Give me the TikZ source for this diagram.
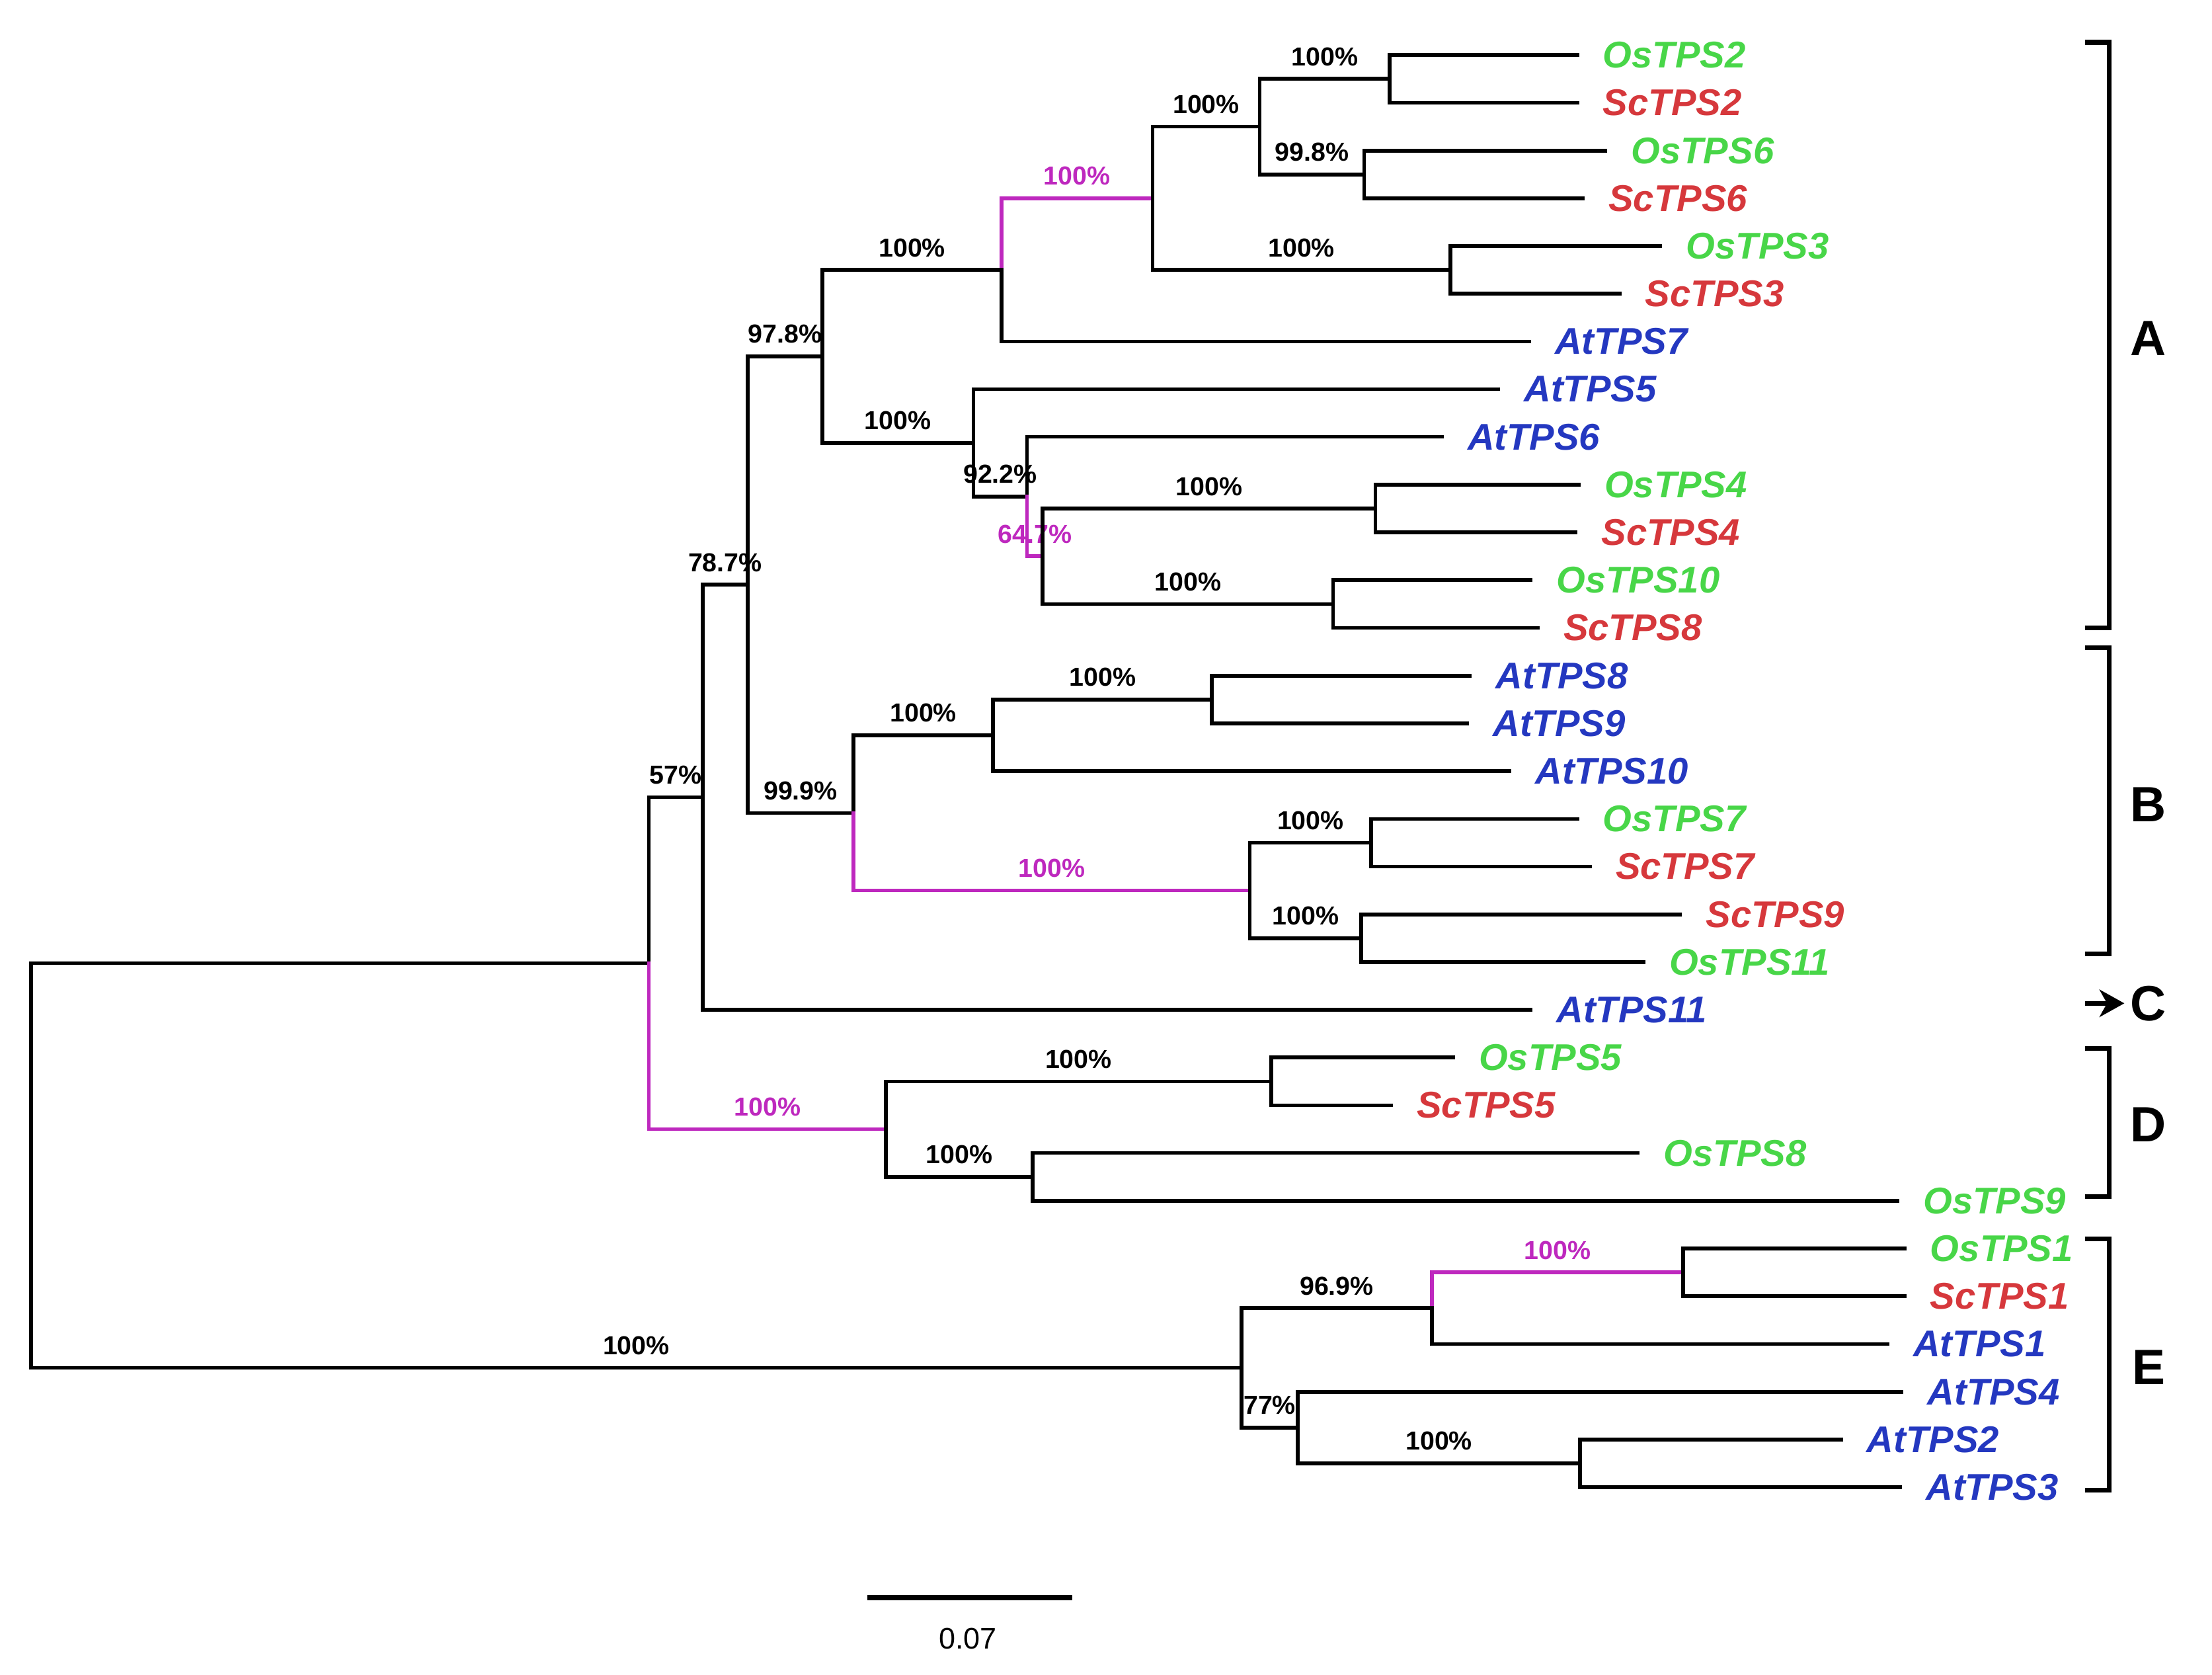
\documentclass[tikz,border=0pt]{standalone}
\usepackage{fontspec}
\setmainfont{Liberation Sans}
\usetikzlibrary{arrows.meta}

\definecolor{osgreen}{RGB}{72,214,72}
\definecolor{scred}{RGB}{214,56,60}
\definecolor{atblue}{RGB}{36,56,192}
\definecolor{boot}{RGB}{190,40,190}

\begin{document}
\begin{tikzpicture}[x=0.02cm, y=-0.02cm,
		branch/.style={line width=1.5pt, line cap=rect},
		hot/.style={branch, draw=boot},
		pct/.style={pos=0.75, above=3pt, inner sep=1.5pt, font=\fontsize{10.5}{12}\selectfont\bfseries},
		taxon/.style={anchor=west, inner sep=0pt, xshift=0.36cm, font=\fontsize{15}{18}\selectfont\bfseries\itshape},
		clade/.style={line width=2pt},
		cladename/.style={font=\fontsize{20}{24}\selectfont\bfseries}]
		
		\useasboundingbox (0,0) rectangle (1568,1187);
		
		% tips and names
		\foreach \nm/\tx/\ty/\col in {OsTPS2/1118/39/osgreen, ScTPS2/1118/72.8/scred,
			OsTPS6/1138/106.7/osgreen, ScTPS6/1122/140.5/scred, OsTPS3/1177/174.3/osgreen,
			ScTPS3/1148/208.2/scred, AtTPS7/1084/242/atblue, AtTPS5/1062/275.8/atblue,
			AtTPS6/1022/309.6/atblue, OsTPS4/1119/343.5/osgreen, ScTPS4/1117/377.3/scred,
			OsTPS10/1085/411.1/osgreen, ScTPS8/1090/445/scred, AtTPS8/1042/478.8/atblue,
			AtTPS9/1040/512.6/atblue, AtTPS10/1070/546.5/atblue, OsTPS7/1118/580.3/osgreen,
			ScTPS7/1127/614.1/scred, ScTPS9/1191/648/scred, OsTPS11/1165/681.8/osgreen,
			AtTPS11/1085/715.6/atblue, OsTPS5/1030/749.4/osgreen, ScTPS5/986/783.3/scred,
			OsTPS8/1161/817.1/osgreen, OsTPS9/1345/850.9/osgreen, OsTPS1/1350/884.8/osgreen,
			ScTPS1/1350/918.6/scred, AtTPS1/1338/952.4/atblue, AtTPS4/1348/986.3/atblue,
			AtTPS2/1305/1020.1/atblue, AtTPS3/1347/1053.9/atblue}
		{
			\coordinate (t\nm) at (\tx,\ty);
			\node[taxon, text=\col] (\nm) at (t\nm) {\nm};
		}
		
		% inner nodes
		\coordinate (root) at (22,826);
		\coordinate (n57) at (460,682.6);
		\coordinate (n787) at (498,564.95);
		\coordinate (n978) at (530,414.3);
		\coordinate (nA1) at (583,252.55);
		\coordinate (nA2) at (710,191.25);
		\coordinate (nA3) at (817,140.5);
		\coordinate (nA4) at (893,89.75);
		\coordinate (nA5) at (985,55.9);
		\coordinate (nA6) at (967,123.6);
		\coordinate (nA7) at (1028,191.25);
		\coordinate (nA8) at (690,313.85);
		\coordinate (nA9) at (728,351.9);
		\coordinate (nA10) at (739,394.2);
		\coordinate (nA11) at (975,360.4);
		\coordinate (nA12) at (945,428.05);
		\coordinate (nB1) at (605,576.1);
		\coordinate (nB2) at (704,521.1);
		\coordinate (nB3) at (859,495.7);
		\coordinate (nB4) at (886,631.05);
		\coordinate (nB5) at (972,597.2);
		\coordinate (nB6) at (965,664.9);
		\coordinate (nD1) at (628,800.2);
		\coordinate (nD2) at (901,766.35);
		\coordinate (nD3) at (732,834);
		\coordinate (nE1) at (880,969.35);
		\coordinate (nE2) at (1015,927.05);
		\coordinate (nE3) at (1193,901.7);
		\coordinate (nE4) at (920,1011.65);
		\coordinate (nE5) at (1120,1037);
		
		% backbone
		\draw[branch] (root) |- (n57);
		\draw[branch] (root) |- node[pct] {100\%} (nE1);
		\draw[branch] (n57) |- node[pct] {57\%} (n787);
		\draw[hot] (n57) |- node[pct, text=boot] {100\%} (nD1);
		\draw[branch] (n787) |- node[pct] {78.7\%} (n978);
		\draw[branch] (n787) |- (tAtTPS11);
		\draw[branch] (n978) |- node[pct] {97.8\%} (nA1);
		\draw[branch] (n978) |- node[pct] {99.9\%} (nB1);
		
		% clade A
		\draw[branch] (nA1) |- node[pct] {100\%} (nA2);
		\draw[branch] (nA1) |- node[pct] {100\%} (nA8);
		\draw[hot] (nA2) |- node[pct, text=boot] {100\%} (nA3);
		\draw[branch] (nA2) |- (tAtTPS7);
		\draw[branch] (nA3) |- node[pct] {100\%} (nA4);
		\draw[branch] (nA3) |- node[pct] {100\%} (nA7);
		\draw[branch] (nA4) |- node[pct] {100\%} (nA5);
		\draw[branch] (nA4) |- node[pct] {99.8\%} (nA6);
		\draw[branch] (nA5) |- (tOsTPS2) (nA5) |- (tScTPS2);
		\draw[branch] (nA6) |- (tOsTPS6) (nA6) |- (tScTPS6);
		\draw[branch] (nA7) |- (tOsTPS3) (nA7) |- (tScTPS3);
		\draw[branch] (nA8) |- (tAtTPS5);
		\draw[branch] (nA8) |- node[pct] {92.2\%} (nA9);
		\draw[branch] (nA9) |- (tAtTPS6);
		\draw[hot] (nA9) |- node[pct, text=boot] {64.7\%} (nA10);
		\draw[branch] (nA10) |- node[pct] {100\%} (nA11);
		\draw[branch] (nA10) |- node[pct] {100\%} (nA12);
		\draw[branch] (nA11) |- (tOsTPS4) (nA11) |- (tScTPS4);
		\draw[branch] (nA12) |- (tOsTPS10) (nA12) |- (tScTPS8);
		
		% clade B
		\draw[branch] (nB1) |- node[pct] {100\%} (nB2);
		\draw[hot] (nB1) |- node[pct, text=boot] {100\%} (nB4);
		\draw[branch] (nB2) |- node[pct] {100\%} (nB3);
		\draw[branch] (nB2) |- (tAtTPS10);
		\draw[branch] (nB3) |- (tAtTPS8) (nB3) |- (tAtTPS9);
		\draw[branch] (nB4) |- node[pct] {100\%} (nB5);
		\draw[branch] (nB4) |- node[pct] {100\%} (nB6);
		\draw[branch] (nB5) |- (tOsTPS7) (nB5) |- (tScTPS7);
		\draw[branch] (nB6) |- (tScTPS9) (nB6) |- (tOsTPS11);
		
		% clade D
		\draw[branch] (nD1) |- node[pct] {100\%} (nD2);
		\draw[branch] (nD1) |- node[pct] {100\%} (nD3);
		\draw[branch] (nD2) |- (tOsTPS5) (nD2) |- (tScTPS5);
		\draw[branch] (nD3) |- (tOsTPS8) (nD3) |- (tOsTPS9);
		
		% clade E
		\draw[branch] (nE1) |- node[pct] {96.9\%} (nE2);
		\draw[branch] (nE1) |- node[pct] {77\%} (nE4);
		\draw[hot] (nE2) |- node[pct, text=boot] {100\%} (nE3);
		\draw[branch] (nE2) |- (tAtTPS1);
		\draw[branch] (nE3) |- (tOsTPS1) (nE3) |- (tScTPS1);
		\draw[branch] (nE4) |- (tAtTPS4);
		\draw[branch] (nE4) |- node[pct] {100\%} (nE5);
		\draw[branch] (nE5) |- (tAtTPS2) (nE5) |- (tAtTPS3);
		
		% clade brackets
		\draw[clade] (1478,30) -- (1495,30) -- (1495,445) -- (1478,445);
		\draw[clade] (1478,459) -- (1495,459) -- (1495,676) -- (1478,676);
		\draw[clade] (1478,743) -- (1495,743) -- (1495,848) -- (1478,848);
		\draw[clade] (1478,878) -- (1495,878) -- (1495,1056) -- (1478,1056);
		\node[cladename] (cA) at (1523,240) {A};
		\node[cladename] (cB) at (1523,570) {B};
		\node[cladename] (cC) at (1523,711) {C};
		\node[cladename] (cD) at (1523,797) {D};
		\node[cladename] (cE) at (1523,969) {E};
		\coordinate (cCtail) at (1478,711);
		\draw[clade, -{Stealth[length=10pt, width=11pt, inset=3pt]}] (cCtail) -- ([xshift=1pt]cC.west);
		
		% scale bar
		\coordinate (sbl) at (615,1132);
		\coordinate (sbr) at (760,1132);
		\draw[line width=2.2pt] (sbl) -- (sbr);
		\node[font=\fontsize{12}{14}\selectfont] (sbtxt) at (686,1161) {0.07};
		
	\end{tikzpicture}
\end{document}
